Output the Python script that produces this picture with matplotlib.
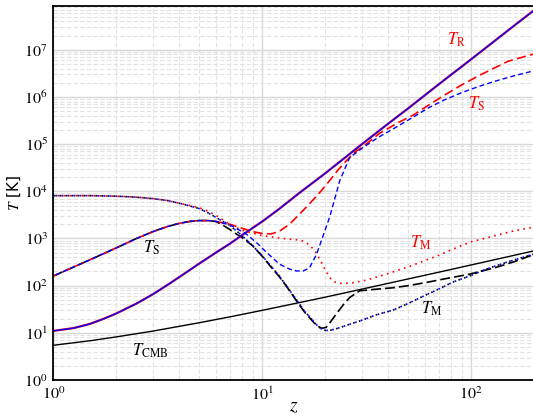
import math
import matplotlib
matplotlib.use("Agg")
import matplotlib.pyplot as plt
from matplotlib.ticker import LogLocator, FuncFormatter, NullFormatter

plt.rcParams['mathtext.fontset'] = 'stix'
plt.rcParams['font.family'] = ['DejaVu Sans']

# radiation temperature (red and blue models coincide)
z_tr = [1, 1.25, 1.5, 1.75, 2, 2.5, 3, 3.5, 4, 5, 6, 7, 8, 10, 12, 15, 20, 25,
        30, 40, 50, 70, 100, 150, 200]
T_R = [11.0, 12.6, 15.5, 20, 25.7, 41.7, 66, 102, 151, 295, 501, 776, 1175,
       2290, 4170, 9120, 24000, 52500, 1.0e5, 2.7e5, 5.75e5, 1.86e6, 6.3e6,
       2.57e7, 6.9e7]

# CMB temperature (black model radiation)
z_cmb = [1, 1.5, 2, 3, 5, 7, 10, 15, 20, 30, 50, 70, 100, 150, 200]
T_cmb = [5.45, 6.8, 8.2, 10.9, 16.4, 21.8, 30, 43.6, 57, 84.5, 139, 193, 275,
         411, 548]

# spin temperatures
z_s_red = [1, 1.5, 2, 2.5, 3, 3.5, 4, 4.5, 5, 5.5, 6, 7, 8, 9, 10, 11, 12,
           13.5, 15, 16.8, 19, 21, 23, 25.3, 28, 30, 36.5, 45, 52.7, 65, 76,
           90, 110, 150, 200]
T_s_red = [160, 355, 630, 1000, 1400, 1780, 2090, 2300, 2400, 2400, 2300, 2000,
           1650, 1400, 1280, 1250, 1400, 2000, 3200, 5400, 9800, 16800, 28000,
           44700, 70000, 85000, 1.7e5, 2.9e5, 4.1e5, 7.5e5, 1.15e6, 1.8e6,
           2.9e6, 5.7e6, 8.2e6]

z_s_blue = [1, 1.5, 2, 2.5, 3, 3.5, 4, 4.5, 5, 5.5, 6, 7, 8.4, 9.5, 10.5, 12.1,
            13.5, 14.6, 15.7, 16.8, 18.2, 19.5, 21, 23.5, 26.2, 30.4, 36, 42.3,
            52, 63, 75, 91, 110, 132, 160, 200]
T_s_blue = [160, 355, 630, 1000, 1400, 1780, 2090, 2300, 2400, 2400, 2300,
            1950, 1240, 780, 505, 285, 225, 205, 205, 235, 465, 1100, 2800,
            16800, 52000, 85000, 1.4e5, 2.1e5, 3.6e5, 6e5, 8.8e5, 1.26e6,
            1.7e6, 2.2e6, 2.8e6, 3.6e6]

z_s_black = [1, 1.5, 2, 2.5, 3, 3.5, 4, 4.5, 5, 5.5, 6, 6.5, 7, 7.5, 8, 9, 10,
             11, 12, 13, 14, 15, 16, 17, 18, 19.2, 20.2, 21, 22.6, 24.5, 26.2,
             29.3, 35, 42, 50, 61, 75, 98, 130, 160, 200]
T_s_black = [160, 355, 630, 1000, 1400, 1780, 2090, 2300, 2400, 2400, 2300,
             1900, 1550, 1250, 1050, 700, 420, 250, 160, 100, 62, 40, 27, 20,
             15, 12.5, 13, 16, 25, 40, 56, 78, 84, 90, 100, 117, 140, 175,
             240, 320, 460]

# gas (matter) temperatures
z_m_red = [1, 1.5, 2, 2.5, 3, 3.5, 4, 4.5, 5, 5.5, 6, 7, 8, 9, 10, 11, 12.1,
           14, 15.1, 16, 17, 18, 19, 20, 21, 22, 23, 24.4, 27, 31.5, 40, 50,
           60, 70, 85, 100, 130, 160, 200]
T_m_red = [8100, 8100, 7900, 7500, 7000, 6400, 5600, 5000, 4500, 3800, 3100,
           2000, 1500, 1300, 1150, 1080, 1020, 950, 930, 850, 700, 520, 340,
           220, 150, 122, 113, 111, 115, 131, 180, 250, 340, 440, 640, 850,
           1150, 1450, 1750]

z_m_blue = [1, 1.5, 2, 2.5, 3, 3.5, 4, 4.5, 5, 5.5, 6, 7, 8, 9, 10, 11, 12, 13,
            14, 15, 16, 17, 18, 19, 20, 21, 23, 26, 30, 35, 42, 50, 60, 70, 82,
            100, 118, 150, 200]
T_m_blue = [8100, 8100, 7900, 7500, 7000, 6400, 5600, 4900, 4300, 3500, 2800,
            1900, 1150, 700, 430, 260, 165, 102, 64, 42, 28, 21, 15.5, 12.5,
            11.3, 11.2, 12.5, 15, 18.5, 24, 30, 42, 62, 85, 120, 165, 224,
            320, 470]

z_m_black = z_m_blue
T_m_black = T_m_blue

fig = plt.figure(figsize=(5.33, 4.16), dpi=100)
ax = fig.add_axes([0.1, 0.0865, 0.902, 0.898])
ax.set_xscale('log')
ax.set_yscale('log')

lw = 1.2
# black model
ax.plot(z_cmb, T_cmb, color='k', lw=1.0)
ax.plot(z_s_black, T_s_black, color='k', lw=lw, ls=(0, (6, 2.4)))
ax.plot(z_m_black, T_m_black, color='k', lw=lw, ls=(0, (1, 2.6)))
# red model
ax.plot(z_tr, T_R, color='#ff0000', lw=lw + 0.4)
ax.plot(z_s_red, T_s_red, color='#ff0000', lw=lw, ls=(2, (5.5, 2.6)))
ax.plot(z_m_red, T_m_red, color='#ff0000', lw=lw, ls=(1.2, (1, 2.6)))
# blue model
ax.plot(z_tr, T_R, color='#0000ff', lw=lw - 0.2)
ax.plot(z_s_blue, T_s_blue, color='#0000ff', lw=lw - 0.2, ls=(4, (3.6, 2.2)))
ax.plot(z_m_blue, T_m_blue, color='#0000ff', lw=lw, ls=(2.4, (1, 2.6)))

ax.set_xlim(1, 200)
ax.set_ylim(1, 8.3e7)

ax.xaxis.set_major_locator(LogLocator(base=10, numticks=20))
ax.yaxis.set_major_locator(LogLocator(base=10, numticks=20))
ax.xaxis.set_minor_locator(LogLocator(base=10, subs=range(2, 10), numticks=100))
ax.yaxis.set_minor_locator(LogLocator(base=10, subs=range(2, 10), numticks=100))
fmt = FuncFormatter(lambda v, p: r'$10^{%d}$' % round(math.log10(v)))
ax.xaxis.set_major_formatter(fmt)
ax.yaxis.set_major_formatter(fmt)
ax.xaxis.set_minor_formatter(NullFormatter())
ax.yaxis.set_minor_formatter(NullFormatter())
ax.tick_params(which='both', direction='in', length=0, labelsize=11.5, pad=4)
ax.xaxis.get_offset_text().set_visible(False)
ax.yaxis.get_offset_text().set_visible(False)

ax.grid(which='major', color='#d8d8d8', lw=1.0, ls='-')
ax.grid(which='minor', color='#e2e2e2', lw=0.8, ls=(0, (4, 2)))
ax.set_axisbelow(True)
for s in ax.spines.values():
    s.set_linewidth(1.3)

ax.set_xlabel(r'$z$', fontsize=14)
ax.xaxis.set_label_coords(0.5, -0.07)
ax.xaxis.label.set_verticalalignment('center')
ax.set_ylabel(r'$T$ [K]', fontsize=11)
ax.yaxis.set_label_coords(-0.063, 0.5)

fs = 12
ax.text(85, 1.6e7, r'$T_{\rm R}$', color='#ff0000', fontsize=fs, ha='center', va='center')
ax.text(106, 7.2e5, r'$T_{\rm S}$', color='#ff0000', fontsize=fs, ha='center', va='center')
ax.text(57, 810, r'$T_{\rm M}$', color='#ff0000', fontsize=fs, ha='center', va='center')
ax.text(65, 32, r'$T_{\rm M}$', color='k', fontsize=fs, ha='center', va='center')
ax.text(2.96, 630, r'$T_{\rm S}$', color='k', fontsize=fs, ha='center', va='center')
ax.text(2.9, 4.1, r'$T_{\rm CMB}$', color='k', fontsize=fs, ha='center', va='center')

fig.savefig('out.png', dpi=100)
